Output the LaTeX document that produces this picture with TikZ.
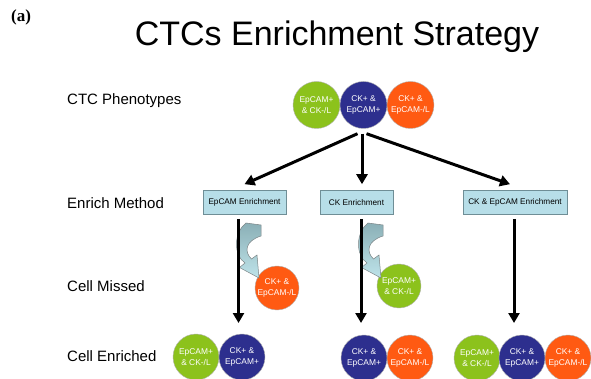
\documentclass[tikz,border=0pt]{standalone}
\usepackage{fontspec}
\setmainfont{Liberation Sans}
\newfontfamily\serifbold{Liberation Serif}[BoldFont={Liberation Serif Bold}]
\usetikzlibrary{arrows.meta,calc}
\definecolor{cgreen}{HTML}{8CC21C}
\definecolor{cblue}{HTML}{2D2F8E}
\definecolor{corange}{HTML}{FF5A12}
\definecolor{boxfill}{HTML}{B7DEE8}
\definecolor{boxline}{HTML}{6F8E96}
\definecolor{bandtop}{HTML}{8AAFB6}
\definecolor{bandbot}{HTML}{BFE4EA}
\begin{document}
\begin{tikzpicture}[x=1pt,y=-1pt,
  lbl/.style={anchor=base west,inner sep=0pt,font=\fontsize{15}{18}\selectfont},
  cell/.style={circle,inner sep=0pt,minimum size=47pt,draw=gray!60,line width=0.4pt,
     text=white,align=center,font=\fontsize{8.4}{11}\selectfont},
  cellsm/.style={cell,minimum size=44pt},
  gcell/.style={fill=cgreen},
  bcell/.style={fill=cblue},
  ocell/.style={fill=corange},
  methbox/.style={draw=boxline,fill=boxfill,line width=0.6pt,minimum height=24pt,
     inner sep=0pt,font=\fontsize{8.2}{9}\selectfont},
  bigarr/.style={line width=3pt,-{Triangle[length=10pt,width=11pt]}},
  band/.style={draw=gray!70!boxline,line width=0.5pt,top color=bandtop,bottom color=bandbot}
]
\useasboundingbox (0,0) rectangle (591,379);

% headings
\node[anchor=base west,inner sep=0pt,font=\serifbold\bfseries\fontsize{17}{20}\selectfont] (tag) at (11,22) {(a)};
\node[anchor=base,inner sep=0pt,font=\fontsize{34}{40}\selectfont] (title) at (337,46) {CTCs Enrichment Strategy};

% row labels
\node[lbl] (l1) at (67,105) {CTC Phenotypes};
\node[lbl] (l2) at (67,209) {Enrich Method};
\node[lbl] (l3) at (67,291) {Cell Missed};
\node[lbl] (l4) at (67,361) {Cell Enriched};

% top phenotypes
\node[cell,gcell] (t1) at (316.5,105) {EpCAM+\\ \& CK-/L};
\node[cell,bcell] (t2) at (363.5,105) {CK+ \&\\ EpCAM+};
\node[cell,ocell] (t3) at (410.5,105) {CK+ \&\\ EpCAM-/L};

% method boxes
\node[methbox,minimum width=83pt] (bL) at (244.5,202.5) {EpCAM Enrichment};
\node[methbox,minimum width=73pt] (bC) at (356.5,202.5) {CK Enrichment};
\node[methbox,minimum width=104pt] (bR) at (515,202.5) {CK \& EpCAM Enrichment};

% top arrows
\draw[bigarr] ([xshift=-6pt,yshift=-5pt]t2.south) -- ([yshift=6pt]bL.north);
\draw[bigarr] ([xshift=-1.5pt,yshift=-5pt]t2.south) -- ([xshift=5.5pt,yshift=6pt]bC.north);
\draw[bigarr] ([xshift=3pt,yshift=-5pt]t2.south) -- ([xshift=-5pt,yshift=6pt]bR.north);

% missed cells
\node[cellsm,ocell] (mL) at (277,288) {CK+ \&\\ EpCAM-/L};
\node[cellsm,gcell] (mC) at (399,286) {EpCAM+\\ \& CK-/L};

% curved band arrows
\foreach \dx in {0,122}{
\begin{scope}[xshift=\dx pt]
\path[band] (246,223) .. controls (234,232) and (233,255) .. (245,263)
  -- (239.5,267.5) -- (259,278) -- (257,255) -- (251.5,259)
  .. controls (244,252) and (245,241) .. (261,236) -- (261,225) -- cycle;
\end{scope}}

% enriched cells
\node[cell,gcell,minimum size=46pt] (eL1) at (196,357) {EpCAM+\\ \& CK-/L};
\node[cell,bcell,minimum size=46pt] (eL2) at (242,357) {CK+ \&\\ EpCAM+};
\node[cell,bcell,minimum size=46pt] (eC1) at (364,358) {CK+ \&\\ EpCAM+};
\node[cell,ocell,minimum size=46pt] (eC2) at (410,358) {CK+ \&\\ EpCAM-/L};
\node[cell,gcell,minimum size=46pt] (eR1) at (477,358) {EpCAM+\\ \& CK-/L};
\node[cell,bcell,minimum size=46pt] (eR2) at (522,358) {CK+ \&\\ EpCAM+};
\node[cell,ocell,minimum size=46pt] (eR3) at (568,358) {CK+ \&\\ EpCAM-/L};

% vertical arrows
\coordinate (tipL) at (238.5,323);
\coordinate (tipC) at (361,323);
\coordinate (tipR) at (514,323);
\draw[bigarr] ([xshift=-6pt,yshift=-4pt]bL.south) -- (tipL);
\draw[bigarr] ([xshift=4.5pt,yshift=-4pt]bC.south) -- (tipC);
\draw[bigarr] ([xshift=-1pt,yshift=-4pt]bR.south) -- (tipR);
\end{tikzpicture}
\end{document}
